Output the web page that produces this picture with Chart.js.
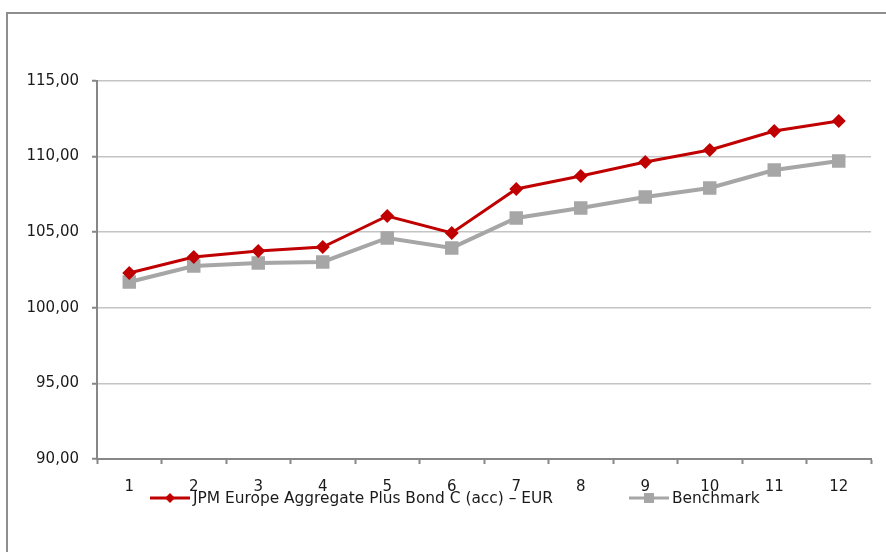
<!DOCTYPE html>
<html>
<head>
<meta charset="utf-8">
<script src="https://cdn.jsdelivr.net/npm/chart.js"></script>
<style>
  html, body { margin: 0; padding: 0; background: #fff; }
  #frame { position: absolute; left: 6px; top: 12px; width: 900px; height: 560px;
           border-top: 2px solid #8e8e8e; border-left: 2px solid #8e8e8e; }
  #chart { position: absolute; left: 0; top: 0; }
</style>
</head>
<body>
<div id="frame"></div>
<canvas id="chart" width="886" height="552"></canvas>
<script>
// months 1..12
const categories = ['1', '2', '3', '4', '5', '6', '7', '8', '9', '10', '11', '12'];
const fundLabel = 'JPM Europe Aggregate Plus Bond C (acc) – EUR';
const fundValues = [102.30, 103.36, 103.76, 104.02, 106.07, 104.95, 107.86, 108.72, 109.64, 110.44, 111.69, 112.35];
const benchLabel = 'Benchmark';
const benchValues = [101.71, 102.76, 102.96, 103.03, 104.62, 103.96, 105.94, 106.60, 107.33, 107.92, 109.11, 109.71];
const yMin = 90;
const yMax = 115;
const yStep = 5;

const RED = '#c00000';
const GREY = '#a6a6a6';
const AXIS = '#878787';
const GRID = '#c4c4c4';

Chart.defaults.font.family = '"DejaVu Sans", Verdana, sans-serif';
Chart.defaults.font.size = 15;
Chart.defaults.color = '#1a1a1a';

// legend drawn under the axis, overlapping the tick labels like the original
const bottomLegend = {
  id: 'bottomLegend',
  afterDraw(chart) {
    const { ctx, chartArea } = chart;
    const y = chartArea.bottom + 39;
    const starts = [chartArea.left + 53, chartArea.left + 532];
    ctx.save();
    ctx.font = '15.4px "DejaVu Sans", Verdana, sans-serif';
    ctx.textBaseline = 'middle';
    chart.data.datasets.forEach((ds, i) => {
      const x0 = starts[i];
      const cx = x0 + 20;
      ctx.strokeStyle = ds.borderColor;
      ctx.lineWidth = 3;
      ctx.beginPath();
      ctx.moveTo(x0, y);
      ctx.lineTo(x0 + 40, y);
      ctx.stroke();
      ctx.fillStyle = ds.pointBackgroundColor;
      ctx.beginPath();
      if (ds.pointStyle === 'rectRot') {
        ctx.moveTo(cx - 5, y);
        ctx.lineTo(cx, y - 5);
        ctx.lineTo(cx + 5, y);
        ctx.lineTo(cx, y + 5);
        ctx.closePath();
      } else {
        ctx.rect(cx - 5, y - 5, 10, 10);
      }
      ctx.fill();
      ctx.fillStyle = '#1a1a1a';
      ctx.fillText(ds.label, x0 + 43, y + 1);
    });
    ctx.restore();
  }
};

new Chart(document.getElementById('chart'), {
  type: 'line',
  data: {
    labels: categories,
    datasets: [
      {
        label: fundLabel,
        data: fundValues,
        borderColor: RED,
        backgroundColor: RED,
        pointBackgroundColor: RED,
        pointBorderColor: RED,
        borderWidth: 3,
        pointStyle: 'rectRot',
        pointRadius: 7,
        pointBorderWidth: 0,
        tension: 0
      },
      {
        label: benchLabel,
        data: benchValues,
        borderColor: GREY,
        backgroundColor: GREY,
        pointBackgroundColor: GREY,
        pointBorderColor: GREY,
        borderWidth: 4,
        pointStyle: 'rect',
        pointRadius: 9.5,
        pointBorderWidth: 0,
        tension: 0
      }
    ]
  },
  options: {
    responsive: false,
    animation: false,
    layout: { padding: { left: 0, top: 81, right: 15, bottom: 0 } },
    plugins: {
      legend: { display: false },
      tooltip: { enabled: false }
    },
    scales: {
      x: {
        offset: true,
        grid: {
          offset: true,
          drawOnChartArea: false,
          drawTicks: true,
          tickLength: 5,
          tickColor: AXIS,
          tickWidth: 2
        },
        border: { display: true, color: AXIS, width: 2 },
        ticks: { padding: 14, maxRotation: 0, autoSkip: false },
        afterFit(scale) { scale.height = 93; }
      },
      y: {
        min: yMin,
        max: yMax,
        grid: {
          color: GRID,
          lineWidth: 1.5,
          tickLength: 5,
          tickColor: AXIS,
          tickWidth: 2
        },
        border: { display: true, color: AXIS, width: 2 },
        ticks: {
          stepSize: yStep,
          padding: 13,
          callback: (v) => v.toFixed(2).replace('.', ',')
        },
        afterFit(scale) { scale.width = 97; }
      }
    }
  },
  plugins: [bottomLegend]
});
</script>
</body>
</html>
